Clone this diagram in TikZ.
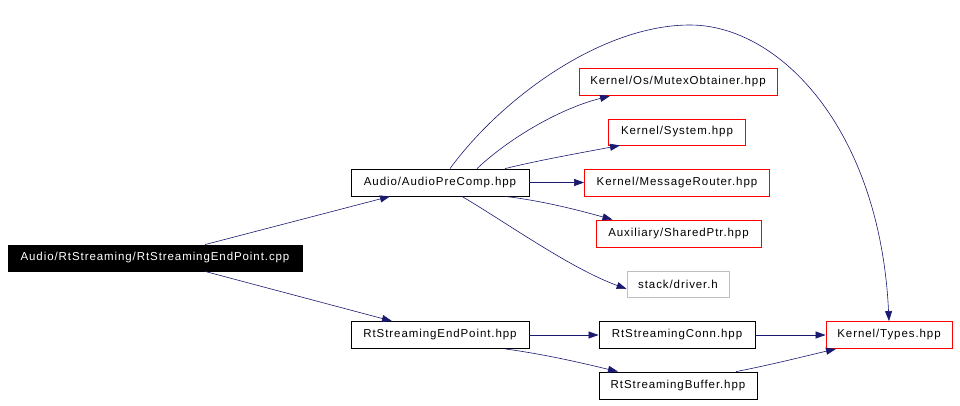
\documentclass[tikz,border=0pt]{standalone}
\usepackage{fontspec}
\setmainfont{Liberation Sans}[LetterSpace=8]
\usetikzlibrary{arrows.meta}
\definecolor{edgeblue}{RGB}{25,25,112}
\definecolor{boxred}{RGB}{255,0,0}
\definecolor{boxgray}{RGB}{191,191,191}
\tikzset{
  filebox/.style={rectangle, draw=black, line width=0.8pt, inner sep=0pt, minimum height=27pt, font=\fontsize{11.5}{13}\selectfont},
  redbox/.style={filebox, draw=boxred},
  graybox/.style={filebox, draw=boxgray},
  rootbox/.style={filebox, fill=black, text=white},
  dep/.style={draw=edgeblue, line width=0.6pt, -{Triangle[length=10pt,width=7pt]}, fill=none}
}
\begin{document}
\begin{tikzpicture}[x=1pt,y=-1pt]
\useasboundingbox (0,0) rectangle (960,405);
\node[rootbox, minimum width=294pt, minimum height=26pt] (root) at (155,258) {Audio/RtStreaming/RtStreamingEndPoint.cpp};
\node[filebox, minimum width=178pt] (apc) at (440,182.5) {Audio/AudioPreComp.hpp};
\node[redbox, minimum width=198pt] (mutex) at (678,82) {Kernel/Os/MutexObtainer.hpp};
\node[redbox, minimum width=137pt, minimum height=26pt] (sys) at (677,132) {Kernel/System.hpp};
\node[redbox, minimum width=185pt] (msgr) at (677,182.5) {Kernel/MessageRouter.hpp};
\node[redbox, minimum width=165pt] (shptr) at (678.5,233.5) {Auxiliary/SharedPtr.hpp};
\node[graybox, minimum width=102pt, minimum height=26pt] (drv) at (678,284) {stack/driver.h};
\node[filebox, minimum width=178pt] (rtsep) at (440,335) {RtStreamingEndPoint.hpp};
\node[filebox, minimum width=156pt] (conn) at (677,335) {RtStreamingConn.hpp};
\node[redbox, minimum width=126pt] (types) at (889,335) {Kernel/Types.hpp};
\node[filebox, minimum width=158pt] (buf) at (678,385.5) {RtStreamingBuffer.hpp};

\draw[dep] ([xshift=50pt]root.north) -- ([xshift=-50pt]apc.south);
\draw[dep] ([xshift=50pt]root.south) -- ([xshift=-48pt]rtsep.north);
\draw[dep] ([xshift=37pt]apc.north) .. controls (505,142) and (555,110) .. ([xshift=-68pt]mutex.south);
\draw[dep] ([xshift=65pt]apc.north) .. controls (540,160) and (580,153) .. ([xshift=-57pt]sys.south);
\draw[dep] (apc.east) -- (msgr.west);
\draw[dep] ([xshift=65pt]apc.south) .. controls (545,201) and (585,212) .. ([xshift=-66pt]shptr.north);
\draw[dep] ([xshift=22pt]apc.south) .. controls (510,225) and (570,268) .. ([yshift=-5pt]drv.west);
\draw[dep] ([xshift=10pt]apc.north) .. controls (500,100) and (600,25) .. (690,25) .. controls (780,25) and (880,130) .. (types.north);
\draw[dep] (rtsep.east) -- (conn.west);
\draw[dep] ([xshift=65pt]rtsep.south) .. controls (550,355) and (590,365) .. ([xshift=-60pt]buf.north);
\draw[dep] (conn.east) -- (types.west);
\draw[dep] ([xshift=58pt]buf.north) .. controls (770,365) and (810,355) .. ([xshift=-53pt]types.south);
\end{tikzpicture}
\end{document}
